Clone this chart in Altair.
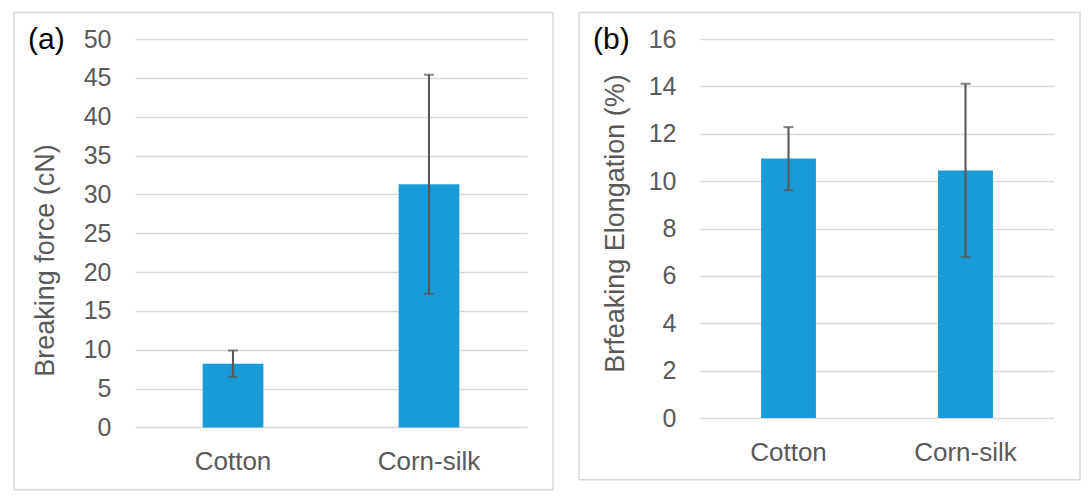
import altair as alt
import pandas as pd

categories = ["Cotton", "Corn-silk"]
force_mean = [8.2, 31.3]
force_err = [1.7, 14.1]
elong_mean = [10.95, 10.45]
elong_err = [1.33, 3.66]
force_ticks = [0, 5, 10, 15, 20, 25, 30, 35, 40, 45, 50]
elong_ticks = [0, 2, 4, 6, 8, 10, 12, 14, 16]

FONT = "Liberation Sans"
GREY = "#595959"
BAR = "#189BD7"


def make_df(means, errs):
    return pd.DataFrame({
        "cat": categories,
        "mean": means,
        "lo": [m - e for m, e in zip(means, errs)],
        "hi": [m + e for m, e in zip(means, errs)],
    })


def panel(df, ytitle, label, ticks, W, H, fr_right, fr_bottom, tx, ty):
    ymax = ticks[-1]
    base = alt.Chart(df)
    xaxis = alt.Axis(labelAngle=0, labelFontSize=26, labelPadding=21,
                     ticks=False, tickSize=0, domain=False, grid=False,
                     labelColor=GREY, labelFont=FONT, labelOverlap=False)
    xscale = alt.Scale(paddingInner=0.69, paddingOuter=0.345)
    yaxis = alt.Axis(values=ticks, tickCount=len(ticks), grid=True,
                     ticks=False, tickSize=0, domain=False,
                     labelFontSize=25, labelColor=GREY, labelFont=FONT,
                     labelPadding=24, labelOverlap=False,
                     title=ytitle, titleFontSize=27,
                     titleFont=FONT, titleColor=GREY, titleFontWeight="normal",
                     titleX=tx, titleY=ty, titleAlign="center",
                     titleBaseline="middle")
    yscale = alt.Scale(domain=[0, ymax], nice=False)

    def X():
        return alt.X("cat:N", sort=categories, title=None, scale=xscale,
                     axis=xaxis)

    def Y(field):
        return alt.Y(field, scale=yscale, axis=yaxis, title=ytitle)

    frame = alt.Chart(pd.DataFrame({"k": [0]})).mark_rect(
        fillOpacity=0, stroke="#D9D9D9", strokeWidth=1.5
    ).encode(x=alt.value(-121), x2=alt.value(fr_right),
             y=alt.value(-26.6), y2=alt.value(fr_bottom))

    bars = base.mark_bar(color=BAR).encode(x=X(), y=Y("mean:Q"))
    rule = base.mark_rule(color=GREY, strokeWidth=2.1).encode(
        x=X(), y=Y("lo:Q"), y2="hi:Q")
    cap_lo = base.mark_tick(color=GREY, size=10, thickness=2.1).encode(
        x=X(), y=Y("lo:Q"))
    cap_hi = base.mark_tick(color=GREY, size=10, thickness=2.1).encode(
        x=X(), y=Y("hi:Q"))
    txt = alt.Chart(pd.DataFrame({"k": [0]})).mark_text(
        text=label, fontSize=30, font=FONT, color="black",
        align="left", baseline="alphabetic"
    ).encode(x=alt.value(-107), y=alt.value(10))

    return alt.layer(frame, bars, rule, cap_lo, cap_hi, txt).properties(
        width=W, height=H)


left = panel(make_df(force_mean, force_err), "Breaking force (cN)", "(a)",
             force_ticks, 392, 388.4, 418, 450.7, -90, 221)
right = panel(make_df(elong_mean, elong_err), "Brfeaking Elongation (%)", "(b)",
              elong_ticks, 354, 379, 380, 440.7, -85, 184)

chart = alt.hconcat(left, right, spacing=24).configure_view(
    stroke=None
).configure_axis(
    gridColor="#D9D9D9", gridWidth=1.5
).properties(
    padding={"left": 5, "top": 3, "right": 0, "bottom": 0},
    background="white",
)

chart.save("out.html", embed_options={"renderer": "svg", "actions": False})
